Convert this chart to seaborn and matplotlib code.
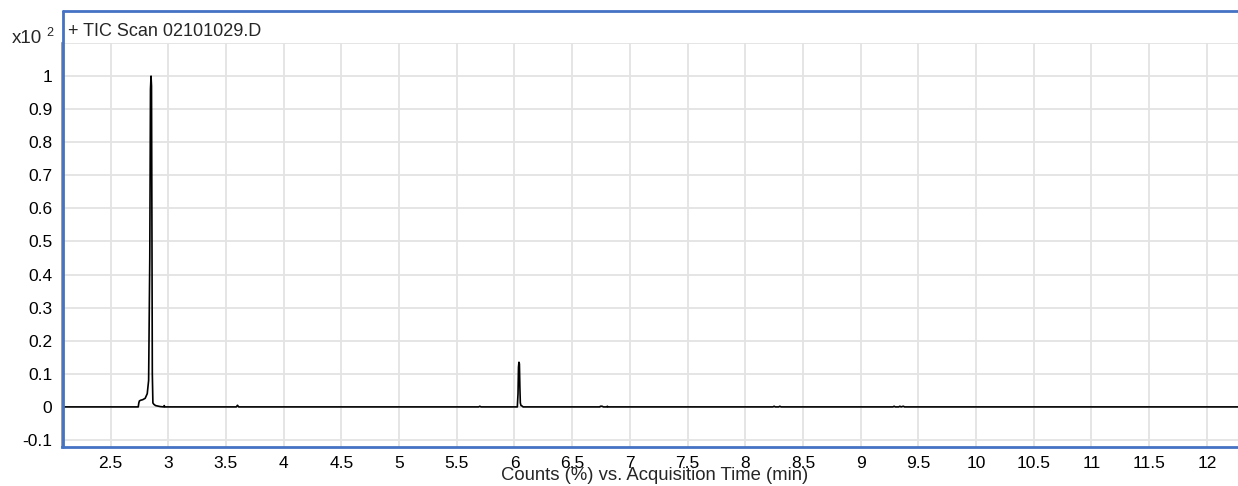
import matplotlib
matplotlib.use("Agg")
import matplotlib.pyplot as plt
from matplotlib.lines import Line2D
import seaborn as sns
import numpy as np
import pandas as pd

# chromatogram trace (time in min, counts x10^2)
times = [2.10, 2.740, 2.745, 2.750, 2.760, 2.780, 2.800, 2.818, 2.830, 2.840,
         2.846, 2.851, 2.855, 2.859, 2.862, 2.867, 2.875, 2.890, 2.930, 2.960,
         2.965, 2.970, 3.590, 3.600, 3.610, 5.690, 5.700, 5.710, 6.025, 6.031,
         6.035, 6.039, 6.043, 6.047, 6.051, 6.057, 6.065, 6.075, 6.740, 6.745,
         6.760, 6.770, 6.800, 6.805, 6.810, 8.240, 8.250, 8.260, 8.290, 8.300,
         8.310, 9.280, 9.290, 9.300, 9.330, 9.340, 9.350, 9.370, 9.380, 12.30]
counts = [0.0, 0.0, 0.012, 0.018, 0.020, 0.022, 0.026, 0.040, 0.080, 0.45,
          0.96, 1.0, 0.97, 0.50, 0.10, 0.012, 0.008, 0.004, 0.001, 0.0,
          0.004, 0.0, 0.0, 0.005, 0.0, 0.0, 0.002, 0.0, 0.0, 0.04,
          0.12, 0.135, 0.13, 0.06, 0.012, 0.004, 0.003, 0.0, 0.0, 0.002,
          0.002, 0.0, 0.0, 0.002, 0.0, 0.0, 0.002, 0.0, 0.0, 0.002,
          0.0, 0.0, 0.002, 0.0, 0.0, 0.002, 0.0, 0.002, 0.0, 0.0]

x_ticks = np.arange(2.5, 12.01, 0.5)
y_ticks = np.round(np.arange(-0.1, 1.101, 0.1), 1)
y_tick_labels = ["-0.1", "0", "0.1", "0.2", "0.3", "0.4", "0.5", "0.6",
                 "0.7", "0.8", "0.9", "1", ""]

title = "+ TIC Scan 02101029.D"
x_label = "Counts (%) vs. Acquisition Time (min)"

sns.set_style("white")
plt.rcParams['font.family'] = ['Liberation Sans', 'DejaVu Sans']
plt.rcParams['axes.unicode_minus'] = False

W, H = 1238, 486
blue = "#4472c4"
grid_c = "#e3e3e3"

fig = plt.figure(figsize=(W / 100, H / 100), dpi=100)
ax = fig.add_axes([61.5 / W, 39 / H, (W - 61.5) / W, 404 / H])

df = pd.DataFrame({"time": times, "counts": counts})
sns.lineplot(data=df, x="time", y="counts", ax=ax, color="black",
             linewidth=1.2, estimator=None, sort=False)

ax.set_xlim(2.075, 12.27)
ax.set_ylim(-0.1212, 1.1)
ax.set_xticks(x_ticks)
ax.set_xticklabels([f"{v:g}" for v in x_ticks])
ax.set_yticks(y_ticks)
ax.set_yticklabels(y_tick_labels)
ax.grid(True, color=grid_c, linewidth=1.3)
ax.set_axisbelow(True)

for s in ["top", "right"]:
    ax.spines[s].set_visible(False)
ax.spines["left"].set_color("#8c8c8c")
ax.spines["left"].set_linewidth(1.2)
ax.spines["bottom"].set_color(blue)
ax.spines["bottom"].set_linewidth(2.0)

ax.tick_params(axis="both", labelsize=12.5, colors="#8c8c8c", labelcolor="black",
               length=3.5, width=1.0, pad=3.0)
ax.set_ylabel("")
ax.set_xlabel(x_label, fontsize=13.3)
ax.xaxis.set_label_coords(0.5045, -0.05)

# blue header frame (top and left edges)
fig.add_artist(Line2D([63 / W, 1.0], [1 - 11 / H, 1 - 11 / H], color=blue,
                      linewidth=2.0, transform=fig.transFigure))
fig.add_artist(Line2D([63 / W, 63 / W], [1 - 11 / H, 1 - 447 / H], color=blue,
                      linewidth=2.0, transform=fig.transFigure))

fig.text(68 / W, 1 - 31 / H, title, fontsize=13, va="center", ha="left")
fig.text(12 / W, 1 - 43 / H, "x10", fontsize=13.5, va="baseline", ha="left")
fig.text(46 / W, 1 - 36 / H, "2", fontsize=9, va="baseline", ha="left")

fig.savefig("out.png", dpi=100)
